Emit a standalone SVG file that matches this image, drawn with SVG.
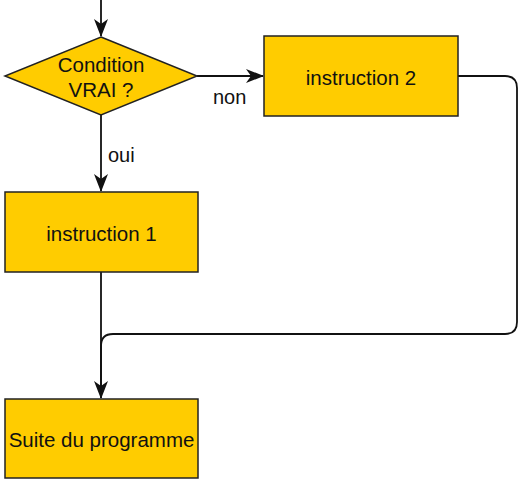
<svg xmlns="http://www.w3.org/2000/svg" width="523" height="485" viewBox="0 0 523 485">
<style>
.box{fill:#ffcc00;stroke:#222;stroke-width:1.5}
.t{font-family:"Liberation Sans",Arial,sans-serif;font-size:20.5px;fill:#111;text-anchor:middle}
.lbl{font-family:"Liberation Sans",Arial,sans-serif;font-size:20px;fill:#111}
.c{fill:none;stroke:#111;stroke-width:1.8}
</style>
<defs>
<marker id="ah" markerWidth="18" markerHeight="14" refX="17" refY="7" orient="auto" markerUnits="userSpaceOnUse" viewBox="0 0 18 14">
<path d="M0,0 L18,7 L0,14 L5,7 Z" fill="#111"/>
</marker>
</defs>
<rect width="523" height="485" fill="#fff"/>
<g id="connectors">
<path class="c" d="M101,0 V36" marker-end="url(#ah)"/>
<path class="c" d="M197,76 H263" marker-end="url(#ah)"/>
<path class="c" d="M101,115 V191" marker-end="url(#ah)"/>
<path class="c" d="M101,272 V398" marker-end="url(#ah)"/>
<path class="c" d="M458,76 H505 Q517,76 517,88 V322 Q517,334 505,334 H113 Q101,334 101,346 V398"/>
<text class="lbl" x="213" y="104">non</text>
<text class="lbl" x="108" y="162">oui</text>
</g>
<g id="cond">
<polygon class="box" points="101,37 197,76 101,115 5,76"/>
<text class="t" x="101" y="72">Condition</text>
<text class="t" x="101" y="97">VRAI ?</text>
</g>
<g id="instr2">
<rect class="box" x="264" y="36" width="194" height="80"/>
<text class="t" x="361" y="85">instruction 2</text>
</g>
<g id="instr1">
<rect class="box" x="5" y="192" width="193" height="80"/>
<text class="t" x="101.5" y="241">instruction 1</text>
</g>
<g id="suite">
<rect class="box" x="5" y="399" width="193" height="79"/>
<text class="t" x="101.5" y="447">Suite du programme</text>
</g>
</svg>
